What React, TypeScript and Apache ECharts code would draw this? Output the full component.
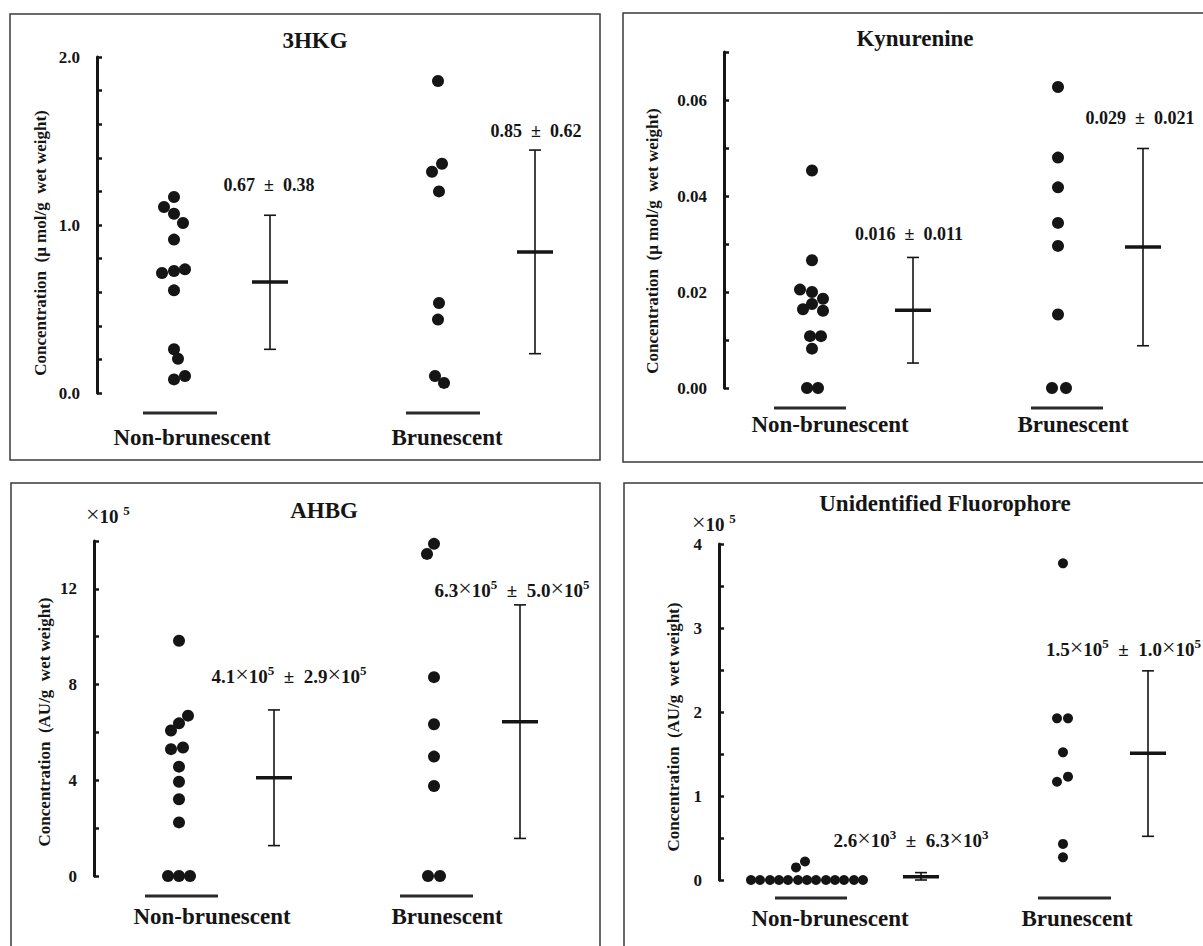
import React, { useEffect, useRef } from "react";
import * as echarts from "echarts";

// ---------- data ----------
const groupNames = ["Non-brunescent", "Brunescent"];
const titles = ["3HKG", "Kynurenine", "AHBG", "Unidentified Fluorophore"];

// 3HKG (µmol/g wet weight)
const hkgNB = [1.167, 1.107, 1.067, 1.012, 0.913, 0.714, 0.726, 0.736, 0.611, 0.26, 0.204, 0.081, 0.101];
const hkgB = [1.857, 1.365, 1.317, 1.2, 0.536, 0.437, 0.101, 0.06];
const hkgMean = [0.66, 0.84];
const hkgLow = [0.26, 0.234];
const hkgHigh = [1.058, 1.446];
const hkgTickLabels = ["0.0", "1.0", "2.0"];

// Kynurenine (µmol/g wet weight)
const kynNB = [0.0453, 0.0266, 0.0205, 0.02, 0.0186, 0.0175, 0.0164, 0.0161, 0.0108, 0.0108, 0.0082, 0, 0];
const kynB = [0.0627, 0.048, 0.0418, 0.0344, 0.0296, 0.0153, 0, 0];
const kynMean = [0.0162, 0.0294];
const kynLow = [0.0052, 0.0088];
const kynHigh = [0.0272, 0.0499];
const kynTickLabels = ["0.00", "0.02", "0.04", "0.06"];

// AHBG (x10^5 AU/g wet weight)
const ahbgNB = [9.83, 6.7, 6.38, 6.08, 5.37, 5.3, 4.57, 3.94, 3.21, 2.24, 0, 0, 0];
const ahbgB = [13.88, 13.46, 8.31, 6.34, 4.99, 3.76, 0, 0];
const ahbgMean = [4.11, 6.45];
const ahbgLow = [1.27, 1.57];
const ahbgHigh = [6.94, 11.33];
const ahbgTickLabels = ["0", "4", "8", "12"];

// Unidentified fluorophore (x10^5 AU/g wet weight)
const fluNB = [0, 0, 0, 0, 0, 0, 0, 0, 0, 0, 0, 0, 0, 0.15, 0.22];
const fluB = [3.77, 1.925, 1.925, 1.52, 1.17, 1.23, 0.43, 0.27];
const fluMean = [0.04, 1.51];
const fluLow = [0.0, 0.52];
const fluHigh = [0.088, 2.49];
const fluTickLabels = ["0", "1", "2", "3", "4"];

const annHkg = ["0.67  \u00b1  0.38", "0.85  \u00b1  0.62"];
const annKyn = ["0.016  \u00b1  0.011", "0.029  \u00b1  0.021"];
const annAhbg = [["4.1", "5", "2.9", "5"], ["6.3", "5", "5.0", "5"]];
const annFlu = [["2.6", "3", "6.3", "3"], ["1.5", "5", "1.0", "5"]];

const nameMol = "Concentration  (\u03bc mol/g  wet weight)";
const nameAU = "Concentration  (AU/g  wet weight)";

// ---------- layout (pixels) ----------
const SERIF = "Liberation Serif";
const INK = "#151515";
const f = (weight: string, size: number) => `${weight} ${size}px "${SERIF}", serif`;

const layouts = [
  {
    border: [10, 14, 590, 446], grid: [97, 57, 503, 336], yMax: 2, yStep: 0.2,
    title: [315, 40], name: [40, 243], dotX: [77, 342], errX: [173, 438],
    jitter: [[0, -10, 0, 9, 0, -12, 0, 11, 0, 0, 4, 0, 11], [-1, 3, -7, 0, 0, -1, -4, 5]],
    under: [413, 143, 217, 406, 480], cat: [437, 192, 447],
    ann: [[269, 185, "center"], [536, 131, "center"]], exp: null, dot: 12,
  },
  {
    border: [623, 13, 620, 449], grid: [724, 52, 479, 336], yMax: 0.07, yStep: 0.01,
    title: [915, 38], name: [652, 241], dotX: [88, 334], errX: [189, 419],
    jitter: [[0, 0, -12, 0, 11, 0, -9, 11, -2, 9, 0, -5, 6], [0, 0, 0, 0, 0, 0, -6, 8]],
    under: [408, 774, 846, 1031, 1103], cat: [424, 830, 1073],
    ann: [[909, 234, "center"], [1140, 118, "center"]], exp: null, dot: 12,
  },
  {
    border: [11, 483, 589, 480], grid: [94, 541, 506, 335], yMax: 14, yStep: 2,
    title: [324, 510], name: [44, 722], dotX: [85, 340], errX: [180, 426],
    jitter: [[0, 9, 0, -8, 4, -8, 0, 0, 0, 0, -11, 0, 11], [0, -7, 0, 0, 0, 0, -6, 6]],
    under: [896, 145, 218, 400, 473], cat: [916, 212, 447],
    ann: [[289, 675, "center"], [512, 589, "center"]], exp: [86, 515], dot: 12,
  },
  {
    border: [624, 483, 620, 480], grid: [719, 544, 484, 336], yMax: 4, yStep: 0.5,
    title: [945, 503], name: [673, 727], dotX: [88, 344], errX: [202, 429],
    jitter: [[-56, -47, -37, -28, -19, -9, 0, 9, 19, 28, 37, 47, 56, -11, -2], [0, -6, 5, 0, -6, 5, 0, 0]],
    under: [898, 775, 847, 1038, 1111], cat: [918, 830, 1077],
    ann: [[911, 839, "center"], [1046, 648, "left"]], exp: [692, 523], dot: 10,
  },
];

const panelData = [
  { nb: hkgNB, b: hkgB, mean: hkgMean, low: hkgLow, high: hkgHigh, ticks: hkgTickLabels, name: nameMol, ann: annHkg, rich: false },
  { nb: kynNB, b: kynB, mean: kynMean, low: kynLow, high: kynHigh, ticks: kynTickLabels, name: nameMol, ann: annKyn, rich: false },
  { nb: ahbgNB, b: ahbgB, mean: ahbgMean, low: ahbgLow, high: ahbgHigh, ticks: ahbgTickLabels, name: nameAU, ann: annAhbg, rich: true },
  { nb: fluNB, b: fluB, mean: fluMean, low: fluLow, high: fluHigh, ticks: fluTickLabels, name: nameAU, ann: annFlu, rich: true },
];

const richStyles = {
  n: { font: f("bold", 19), fontFamily: SERIF, fontWeight: "bold", fontSize: 19, fill: INK, lineHeight: 22, verticalAlign: "bottom" },
  x: { font: f("normal", 24), fontFamily: SERIF, fontWeight: "normal", fontSize: 24, fill: INK, lineHeight: 22, verticalAlign: "bottom" },
  s: { font: f("bold", 13), fontFamily: SERIF, fontWeight: "bold", fontSize: 13, fill: INK, lineHeight: 14, verticalAlign: "top" },
};

function buildOption() {
  const grid: any[] = [];
  const xAxis: any[] = [];
  const yAxis: any[] = [];
  const series: any[] = [];
  const graphic: any[] = [];

  panelData.forEach((pd, i) => {
    const L = layouts[i];
    grid.push({ left: L.grid[0], top: L.grid[1], width: L.grid[2], height: L.grid[3], containLabel: false });
    xAxis.push({ type: "value", gridIndex: i, min: 0, max: L.grid[2], show: false });
    const labelVals = pd.ticks.map((t) => parseFloat(t));
    const dec = pd.ticks[0].includes(".") ? pd.ticks[0].split(".")[1].length : 0;
    yAxis.push({
      type: "value", gridIndex: i, min: 0, max: L.yMax, interval: L.yStep,
      axisLine: { show: true, lineStyle: { color: INK, width: 3 } },
      axisTick: { show: true, inside: true, length: 5, lineStyle: { color: INK, width: 2.5 } },
      splitLine: { show: false },
      axisLabel: {
        margin: 17, fontFamily: SERIF, fontWeight: "bold", fontSize: 17, color: INK,
        formatter: (v: number) => (labelVals.some((l) => Math.abs(l - v) < 1e-9) ? v.toFixed(dec) : ""),
      },
    });

    const groups = [pd.nb, pd.b];
    groups.forEach((vals, g) => {
      series.push({
        type: "scatter", xAxisIndex: i, yAxisIndex: i, clip: false,
        symbol: "circle", symbolSize: L.dot,
        itemStyle: { color: INK, opacity: 1 },
        data: vals.map((v, k) => [L.dotX[g] + L.jitter[g][k], v]),
        z: 3,
      });
    });

    series.push({
      type: "custom", xAxisIndex: i, yAxisIndex: i, clip: false,
      encode: { x: 0, y: [1, 2, 3] },
      data: [0, 1].map((g) => [L.errX[g], pd.mean[g], pd.low[g], pd.high[g]]),
      renderItem: (params: any, api: any) => {
        const x = api.value(0);
        const pm = api.coord([x, api.value(1)]);
        const pl = api.coord([x, api.value(2)]);
        const ph = api.coord([x, api.value(3)]);
        const cap = 6;
        const mw = 18;
        const thin = { stroke: INK, lineWidth: 1.6 };
        return {
          type: "group",
          children: [
            { type: "line", shape: { x1: pl[0], y1: pl[1], x2: ph[0], y2: ph[1] }, style: thin },
            { type: "line", shape: { x1: ph[0] - cap, y1: ph[1], x2: ph[0] + cap, y2: ph[1] }, style: thin },
            { type: "line", shape: { x1: pl[0] - cap, y1: pl[1], x2: pl[0] + cap, y2: pl[1] }, style: thin },
            { type: "line", shape: { x1: pm[0] - mw, y1: pm[1], x2: pm[0] + mw, y2: pm[1] }, style: { stroke: INK, lineWidth: 3.5 } },
          ],
        };
      },
      z: 2,
    });

    graphic.push({
      type: "rect", shape: { x: L.border[0], y: L.border[1], width: L.border[2], height: L.border[3] },
      style: { fill: "none", stroke: "#3a3a3a", lineWidth: 1.5 }, z: 0,
    });
    graphic.push({
      type: "text", x: L.title[0], y: L.title[1],
      style: {
        text: titles[i], font: f("bold", 23), fill: INK,
        textAlign: "center", align: "center", textVerticalAlign: "middle", verticalAlign: "middle",
      },
    });
    graphic.push({
      type: "text", x: L.name[0], y: L.name[1], rotation: Math.PI / 2,
      style: {
        text: pd.name, font: f("bold", 17), fill: INK,
        textAlign: "center", align: "center", textVerticalAlign: "middle", verticalAlign: "middle",
      },
    });
    if (L.exp) {
      graphic.push({
        type: "text", x: L.exp[0], y: L.exp[1],
        style: {
          text: "{x|\u00d7}{n|10 }{s|5}", rich: richStyles, font: f("bold", 19),
          textAlign: "left", align: "left", textVerticalAlign: "middle", verticalAlign: "middle",
        },
      });
    }
    const u = L.under;
    [[u[1], u[2]], [u[3], u[4]]].forEach(([a, b2]) => {
      graphic.push({ type: "line", shape: { x1: a, y1: u[0], x2: b2, y2: u[0] }, style: { stroke: "#2a2a2a", lineWidth: 3 } });
    });
    [1, 2].forEach((k, g) => {
      graphic.push({
        type: "text", x: L.cat[k], y: L.cat[0],
        style: {
          text: groupNames[g], font: f("bold", 23), fill: INK,
          textAlign: "center", align: "center", textVerticalAlign: "middle", verticalAlign: "middle",
        },
      });
    });
    [0, 1].forEach((g) => {
      const a: any = L.ann[g];
      const content: any = pd.ann[g];
      const style: any = pd.rich
        ? {
            text: `{n|${content[0]}}{x|\u00d7}{n|10}{s|${content[1]}}{n|  \u00b1  ${content[2]}}{x|\u00d7}{n|10}{s|${content[3]}}`,
            rich: richStyles, font: f("bold", 19),
          }
        : { text: content, font: f("bold", 18), fill: INK };
      graphic.push({
        type: "text", x: a[0], y: a[1],
        style: { ...style, textAlign: a[2], align: a[2], textVerticalAlign: "middle", verticalAlign: "middle" },
      });
    });
  });

  return { animation: false, backgroundColor: "#ffffff", grid, xAxis, yAxis, series, graphic };
}

export default function App() {
  const ref = useRef<HTMLDivElement>(null);
  useEffect(() => {
    document.body.style.margin = "0";
    if (!ref.current) return;
    const chart = echarts.init(ref.current, undefined, { renderer: "svg" });
    chart.setOption(buildOption() as any);
    return () => chart.dispose();
  }, []);
  return <div ref={ref} style={{ width: 1203, height: 946, background: "#fff" }} />;
}
